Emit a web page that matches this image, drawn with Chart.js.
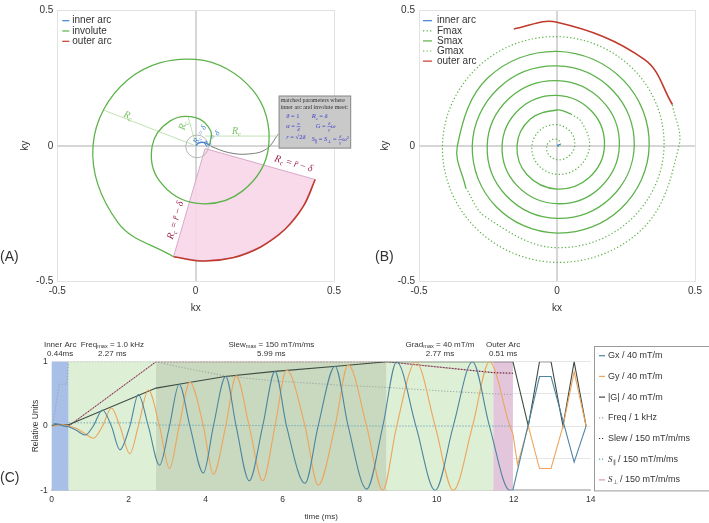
<!DOCTYPE html>
<html>
<head>
<meta charset="utf-8">
<script src="https://cdn.jsdelivr.net/npm/chart.js"></script>
<style>
  body { margin:0; background:#fff; }
  .panel { position:absolute; }
</style>
</head>
<body>
<div class="panel" style="left:0px; top:0px; width:360px; height:322px;"><canvas id="chartA"></canvas></div>
<div class="panel" style="left:360px; top:0px; width:349px; height:322px;"><canvas id="chartB"></canvas></div>
<div class="panel" style="left:0px; top:330px; width:709px; height:193px;"><canvas id="chartC"></canvas></div>
<script>
// ---------------- panel A : inner arc + involute + outer arc (kx, ky) ----------------
var aInnerArc = [[0, 0], [0.012, 0.011], [0.027, 0.013], [0.041, 0.008], [0.05, 0]];
// involute read as [angle (deg, ccw from +kx), radius]
var aInvolute = [[0, 0.050], [45, 0.077], [90, 0.104], [135, 0.130], [180, 0.157], [225, 0.184],
  [270, 0.211], [315, 0.237], [360, 0.264], [405, 0.291], [450, 0.318], [495, 0.345],
  [540, 0.371], [585, 0.398], [618.9, 0.416]];
var aOuterArc = [[-0.080, -0.408], [0.027, -0.424], [0.134, -0.412], [0.235, -0.372],
  [0.322, -0.308], [0.389, -0.223], [0.432, -0.124]];
var aWedgeCentre = [0.034, -0.010];
var aGuides = [[[-0.005, 0.002], [-0.334, 0.132]], [[0.001, 0.003], [-0.027, 0.105]], [[0.034, 0.036], [0.300, 0.036]]];
var aLeader = [[0.300, 0.045], [0.255, -0.012], [0.190, -0.030], [0.120, -0.025], [0.055, -0.002]];
var aMatchCircle = [0.005, -0.002, 0.041];   // centre x, centre y, radius
var aNoteBox = [0.300, 0.185, 0.562, -0.010]; // left, top, right, bottom (k units)

// ---------------- panel B : full spiral ----------------
var bInnerArc = [[0, 0], [0.006, 0.004], [0.012, 0.004]];
var bFmax = [[-405, 0.003], [-360, 0.010], [-315, 0.017], [-270, 0.024], [-225, 0.030], [-180, 0.037],
  [-135, 0.044], [-90, 0.051], [-45, 0.057], [0, 0.064], [45, 0.071], [90, 0.078], [135, 0.084],
  [180, 0.091], [225, 0.098], [270, 0.105], [315, 0.111], [360, 0.118], [405, 0.125], [427, 0.128]];
var bSmax = [[427, 0.128], [450, 0.132], [495, 0.138], [540, 0.145], [585, 0.152], [630, 0.159],
  [675, 0.165], [720, 0.172], [765, 0.179], [810, 0.186], [855, 0.192], [900, 0.199], [945, 0.206],
  [990, 0.213], [1035, 0.219], [1080, 0.226], [1125, 0.233], [1170, 0.240], [1215, 0.246],
  [1260, 0.253], [1305, 0.260], [1350, 0.267], [1395, 0.273], [1440, 0.280], [1485, 0.287],
  [1530, 0.294], [1575, 0.300], [1620, 0.307], [1665, 0.314], [1710, 0.321], [1755, 0.327],
  [1800, 0.334], [1845, 0.341], [1890, 0.348], [1935, 0.354], [1980, 0.361], [2005, 0.365]];
var bGmax = [[2005, 0.365], [2025, 0.368], [2070, 0.375], [2115, 0.381], [2160, 0.388], [2205, 0.395],
  [2250, 0.402], [2295, 0.408], [2340, 0.415], [2385, 0.422], [2430, 0.429], [2475, 0.435],
  [2520, 0.442], [2540, 0.445]];
var bOuterArc = [[2540, 0.445], [2565, 0.449], [2610, 0.455], [2630, 0.458]];

// ---------------- panel C : waveforms vs time (ms) ----------------
var cRegionEdges = [0, 0.44, 2.71, 8.70, 11.47, 11.98];
var cRegionTimes = ['0.44ms', '2.27 ms', '5.99 ms', '2.77 ms', '0.51 ms'];
var cTime = [0, 0.08, 0.18, 0.30, 0.44, 0.65, 0.87, 1.08, 1.32, 1.55, 1.77, 2.03, 2.25, 2.51, 2.80,
  3.06, 3.31, 3.59, 3.94, 4.20, 4.52, 4.79, 5.13, 5.48, 5.80, 6.10, 6.58, 6.92, 7.36, 7.70, 8.18,
  8.60, 8.96, 9.46, 9.96, 10.43, 10.93, 11.37, 11.90, 11.98];
var cGx = [0, 0.04, 0.03, 0, -0.01, -0.07, -0.14, 0, 0.25, 0, -0.37, 0, 0.49, 0, -0.61,
  0, 0.65, 0, -0.73, 0, 0.77, 0, -0.85, 0, 0.85, 0, -0.89, 0, 0.93, 0, -0.98,
  0, 1.0, 0, -1.0, 0, 1.0, 0, -1.0, -0.99];
var cGy = [0, 0, 0.02, 0.02, 0, -0.04, -0.12, -0.19, 0, 0.28, 0, -0.43, 0, 0.56, 0,
  -0.66, 0, 0.68, 0, -0.75, 0, 0.78, 0, -0.85, 0, 0.87, 0, -0.92, 0, 0.95, 0,
  -1.0, 0, 1.0, 0, -1.0, 0, 1.0, 0, -0.12];
var cRewGxTime = [11.98, 12.67, 12.97, 13.57, 13.88];
var cRewGx = [-0.99, 0.77, 0.77, -0.56, 0];
var cRewGyTime = [11.98, 12.10, 12.38, 12.67, 12.97, 13.28, 13.57, 13.88];
var cRewGy = [-0.12, -0.60, 0, -0.66, -0.66, 0, 0.84, 0];
var cGmagTime = [0, 0.10, 0.44, 2.71, 3.30, 4.50, 5.80, 7.40, 8.70, 11.98];
var cGmag = [0, 0.02, 0.02, 0.59, 0.65, 0.77, 0.85, 0.93, 1.0, 1.0];
var cRewGmagTime = [11.98, 12.38, 12.67, 12.97, 13.28, 13.57, 13.88];
var cRewGmag = [1, 0, 1, 1, 0, 1, 0];
var cFreqTime = [0, 0.04, 0.20, 0.39, 0.44, 2.71, 3.30, 4.50, 5.80, 7.40, 8.70, 10.0, 11.47, 11.98];
var cFreq = [0, 0.07, 0.65, 0.65, 1.0, 1.0, 0.92, 0.78, 0.70, 0.64, 0.60, 0.55, 0.50, 0.49];
var cSlewTime = [0.44, 2.71, 8.70, 10.0, 11.47, 11.98];
var cSlew = [0, 1.0, 1.0, 0.92, 0.83, 0.82];
var cSparTime = [0.44, 2.71, 2.71, 8.70, 11.98];
var cSpar = [0.05, 0.05, 0.015, 0, 0];
var cSperp = [0, 1.0, 1.0, 0.92, 0.83, 0.82];

// ---------------- helpers ----------------
var SANS = '"Liberation Sans", Arial, Helvetica, sans-serif';
var SERIF = '"Liberation Serif", "DejaVu Serif", serif';
var BLUE = '#3f7fd0', GREEN = '#5cb34a', RED = '#c0392b';
var DOT = [1.3, 2.2];
Chart.defaults.font.family = SANS;
Chart.defaults.font.size = 10;
Chart.defaults.color = '#333';
Chart.defaults.animation = false;
Chart.defaults.elements.point.radius = 0;
Chart.defaults.elements.point.hoverRadius = 0;
Chart.defaults.plugins.legend.display = false;
Chart.defaults.plugins.tooltip.enabled = false;

function xy(pts) { return pts.map(function(p) { return {x: p[0], y: p[1]}; }); }
function polar(pts) {
  return pts.map(function(p) { var a = p[0] * Math.PI / 180; return {x: p[1] * Math.cos(a), y: p[1] * Math.sin(a)}; });
}
function series(t, v) { return t.map(function(x, i) { return {x: x, y: v[i]}; }); }

function fontOf(st, sz, family) {
  var fam = st.indexOf('m') >= 0 ? SERIF : family;
  return (st.indexOf('i') >= 0 || st.indexOf('m') >= 0 ? 'italic ' : '') + sz + 'px ' + fam;
}
// parts: [text, style]; style letters: i italic, m math (serif italic), s subscript, p superscript, f fraction "num|den"
function richWidth(ctx, parts, size, family) {
  var w = 0;
  parts.forEach(function(p) {
    var t = p[0], st = p[1] || '';
    if (st.indexOf('f') >= 0) {
      var nd = t.split('|');
      ctx.font = fontOf('m', size * 0.75, family);
      w += Math.max(ctx.measureText(nd[0]).width, ctx.measureText(nd[1]).width) + 1.5;
    } else {
      var small = st.indexOf('s') >= 0 || st.indexOf('p') >= 0;
      ctx.font = fontOf(st, small ? size * 0.7 : size, family);
      w += ctx.measureText(t).width;
    }
  });
  return w;
}
function drawRich(ctx, parts, x, y, o) {
  var size = o.size || 10, family = o.family || SERIF;
  ctx.save();
  ctx.translate(x, y);
  ctx.rotate((o.rot || 0) * Math.PI / 180);
  ctx.fillStyle = o.color || '#333';
  ctx.strokeStyle = o.color || '#333';
  ctx.textBaseline = 'middle';
  ctx.textAlign = 'left';
  var cx = o.align === 'left' ? 0 : -richWidth(ctx, parts, size, family) / 2;
  parts.forEach(function(p) {
    var t = p[0], st = p[1] || '';
    if (st.indexOf('f') >= 0) {
      var nd = t.split('|'), fs = size * 0.75;
      ctx.font = fontOf('m', fs, family);
      var fw = Math.max(ctx.measureText(nd[0]).width, ctx.measureText(nd[1]).width);
      ctx.textAlign = 'center';
      ctx.fillText(nd[0], cx + fw / 2 + 0.75, -fs * 0.55);
      ctx.fillText(nd[1], cx + fw / 2 + 0.75, fs * 0.6);
      ctx.lineWidth = 0.5;
      ctx.beginPath(); ctx.moveTo(cx, 0); ctx.lineTo(cx + fw + 1.5, 0); ctx.stroke();
      ctx.textAlign = 'left';
      cx += fw + 1.5;
    } else {
      var small = st.indexOf('s') >= 0 || st.indexOf('p') >= 0;
      ctx.font = fontOf(st, small ? size * 0.7 : size, family);
      var dy = st.indexOf('s') >= 0 ? size * 0.3 : (st.indexOf('p') >= 0 ? -size * 0.35 : 0);
      ctx.fillText(t, cx, dy);
      cx += ctx.measureText(t).width;
    }
  });
  ctx.restore();
}

// legend inside the k-space plots + panel letter
var kDecor = {
  id: 'kDecor',
  afterDraw: function(chart, args, opts) {
    var ctx = chart.ctx, area = chart.chartArea;
    ctx.save();
    ctx.font = '10px ' + SANS;
    ctx.textBaseline = 'middle';
    var y = area.top + opts.top;
    chart.data.datasets.forEach(function(ds) {
      if (!ds.label) return;
      var x0 = area.left + opts.left;
      ctx.strokeStyle = ds.borderColor;
      ctx.lineWidth = 1.2;
      ctx.setLineDash(ds.borderDash || []);
      ctx.beginPath(); ctx.moveTo(x0, y); ctx.lineTo(x0 + opts.sample, y); ctx.stroke();
      ctx.setLineDash([]);
      ctx.fillStyle = '#333';
      ctx.fillText(ds.label, x0 + opts.sample + opts.gap, y);
      y += opts.spacing;
    });
    ctx.font = '14px ' + SANS;
    ctx.textAlign = 'left';
    ctx.fillText(opts.panel, opts.panelX, opts.panelY);
    ctx.restore();
  }
};

function kScales(yWidth) {
  return {
    x: {
      type: 'linear', min: -0.5, max: 0.5,
      ticks: {stepSize: 0.5, padding: 4, maxRotation: 0, font: {size: 10}},
      grid: {drawTicks: false,
        color: function(c) { return c.tick && c.tick.value === 0 ? '#d6d6d6' : '#e2e2e2'; },
        lineWidth: function(c) { return c.tick && c.tick.value === 0 ? 2 : 1; }},
      border: {display: false},
      title: {display: true, text: 'kx', font: {size: 10}, padding: {top: 0, bottom: 8}},
      afterFit: function(s) { s.height = 40.3; }
    },
    y: {
      type: 'linear', min: -0.5, max: 0.5,
      ticks: {stepSize: 0.5, padding: 4, font: {size: 10}},
      grid: {drawTicks: false,
        color: function(c) { return c.tick && c.tick.value === 0 ? '#d6d6d6' : '#e2e2e2'; },
        lineWidth: function(c) { return c.tick && c.tick.value === 0 ? 2 : 1; }},
      border: {display: false},
      title: {display: true, text: 'ky', font: {size: 10}, padding: {top: 19, bottom: 0}},
      afterFit: function(s) { s.width = yWidth; }
    }
  };
}

// ---------------- panel A annotations ----------------
var RC = [['R', 'm'], ['c', 'ms']];
var aLabels = [
  {at: [-0.244, 0.111], rot: 21.8, color: '#7cc465', size: 10, parts: RC},
  {at: [-0.045, 0.075], rot: -75, color: '#7cc465', size: 10, parts: RC},
  {at: [0.148, 0.053], rot: 0, color: '#7cc465', size: 10, parts: RC},
  {at: [0.016, 0.041], rot: -62, color: BLUE, size: 8, parts: RC.concat([[' = '], ['δ', 'm']])},
  {at: [0.058, 0.026], rot: -45, color: BLUE, size: 8, parts: RC.concat([[' = '], ['δ', 'm']])},
  {at: [0.354, -0.066], rot: 16, color: '#9b2450', size: 10, parts: RC.concat([[' = '], ['r̄', 'm'], [' − '], ['δ', 'm']])},
  {at: [-0.072, -0.274], rot: -74, color: '#9b2450', size: 10, parts: RC.concat([[' = '], ['r̄', 'm'], [' − '], ['δ', 'm']])}
];
var aNotes = {
  id: 'aNotes',
  afterDatasetsDraw: function(chart) {
    var ctx = chart.ctx, sx = chart.scales.x, sy = chart.scales.y;
    ctx.save();
    // match circle
    var cxp = sx.getPixelForValue(aMatchCircle[0]), cyp = sy.getPixelForValue(aMatchCircle[1]);
    var rp = sx.getPixelForValue(aMatchCircle[2]) - sx.getPixelForValue(0);
    ctx.strokeStyle = '#b5b5b5'; ctx.lineWidth = 1;
    ctx.beginPath(); ctx.arc(cxp, cyp, rp, 0, Math.PI * 2); ctx.stroke();
    // note box
    var l = sx.getPixelForValue(aNoteBox[0]), t = sy.getPixelForValue(aNoteBox[1]);
    var r = sx.getPixelForValue(aNoteBox[2]), b = sy.getPixelForValue(aNoteBox[3]);
    ctx.fillStyle = '#c9c9c9'; ctx.strokeStyle = '#8c8c8c';
    ctx.fillRect(l, t, r - l, b - t); ctx.strokeRect(l + 0.5, t + 0.5, r - l - 1, b - t - 1);
    drawRich(ctx, [['matched parameters where']], l + 2, t + 4.8, {size: 6, color: '#333', align: 'left'});
    drawRich(ctx, [['inner arc and involute meet:']], l + 2, t + 11.4, {size: 6, color: '#333', align: 'left'});
    var mc = '#3b3bd1';
    drawRich(ctx, [['θ', 'm'], [' = 1']], l + 7.5, t + 21, {size: 6.5, color: mc, align: 'left'});
    drawRich(ctx, [['α', 'm'], [' = '], ['π|4', 'f']], l + 7.5, t + 31, {size: 6.5, color: mc, align: 'left'});
    drawRich(ctx, [['r', 'm'], [' = √2'], ['δ', 'm']], l + 7.5, t + 42, {size: 6.5, color: mc, align: 'left'});
    drawRich(ctx, [['R', 'm'], ['c', 'ms'], [' = '], ['δ', 'm']], l + 33, t + 21, {size: 6.5, color: mc, align: 'left'});
    drawRich(ctx, [['G', 'm'], [' = '], ['δ|γ', 'f'], ['ω', 'm']], l + 37, t + 31, {size: 6.5, color: mc, align: 'left'});
    drawRich(ctx, [['S', 'm'], ['∥', 's'], [' = '], ['S', 'm'], ['⊥', 's'], [' = '], ['δ|γ', 'f'], ['ω', 'm'], ['2', 'p']], l + 33, t + 44, {size: 6.5, color: mc, align: 'left'});
    aLabels.forEach(function(a) {
      drawRich(ctx, a.parts, sx.getPixelForValue(a.at[0]), sy.getPixelForValue(a.at[1]), {size: a.size, color: a.color, rot: a.rot});
    });
    ctx.restore();
  }
};

var chartA = new Chart(document.getElementById('chartA'), {
  type: 'scatter',
  data: {
    datasets: [
      {label: 'inner arc', data: xy(aInnerArc), showLine: true, borderColor: BLUE, borderWidth: 1.3, tension: 0.4},
      {label: 'involute', data: polar(aInvolute), showLine: true, borderColor: GREEN, borderWidth: 1.3, tension: 0.375},
      {label: 'outer arc', data: xy(aOuterArc), showLine: true, borderColor: RED, borderWidth: 1.6, tension: 0.4},
      {data: xy([aWedgeCentre].concat(aOuterArc, [aWedgeCentre])), showLine: true, borderColor: '#d8a8c8',
        borderWidth: 1, backgroundColor: 'rgba(247,214,232,0.9)', fill: 'shape', tension: 0},
      {data: xy(aGuides[0]), showLine: true, borderColor: '#c2e2b3', borderWidth: 1},
      {data: xy(aGuides[1]), showLine: true, borderColor: '#c2e2b3', borderWidth: 1},
      {data: xy(aGuides[2]), showLine: true, borderColor: '#c2e2b3', borderWidth: 1},
      {data: xy(aLeader), showLine: true, borderColor: '#7a7a7a', borderWidth: 1, tension: 0.4}
    ]
  },
  options: {
    responsive: true, maintainAspectRatio: false, devicePixelRatio: 1,
    layout: {autoPadding: false, padding: {left: 0, top: 5, right: 26, bottom: 0}},
    scales: kScales(57.3),
    plugins: {kDecor: {top: 10.7, left: 5, sample: 7, gap: 3, spacing: 10.3, panel: '(A)', panelX: 0, panelY: 257}}
  },
  plugins: [aNotes, kDecor]
});

var chartB = new Chart(document.getElementById('chartB'), {
  type: 'scatter',
  data: {
    datasets: [
      {label: 'inner arc', data: xy(bInnerArc), showLine: true, borderColor: BLUE, borderWidth: 1.3, tension: 0.4},
      {label: 'Fmax', data: polar(bFmax), showLine: true, borderColor: GREEN, borderWidth: 1.2, borderDash: DOT, tension: 0.375},
      {label: 'Smax', data: polar(bSmax), showLine: true, borderColor: GREEN, borderWidth: 1.3, tension: 0.375},
      {label: 'Gmax', data: polar(bGmax), showLine: true, borderColor: GREEN, borderWidth: 1.2, borderDash: DOT, tension: 0.375},
      {label: 'outer arc', data: polar(bOuterArc), showLine: true, borderColor: RED, borderWidth: 1.6, tension: 0.375}
    ]
  },
  options: {
    responsive: true, maintainAspectRatio: false, devicePixelRatio: 1,
    layout: {autoPadding: false, padding: {left: 0, top: 5, right: 14, bottom: 0}},
    scales: kScales(59),
    plugins: {kDecor: {top: 10.7, left: 4, sample: 9, gap: 5, spacing: 10.1, panel: '(B)', panelX: 15, panelY: 257}}
  },
  plugins: [kDecor]
});

// ---------------- panel C ----------------
var cRegionColors = ['#a8c0e7', '#ddefd5', '#c8d9bf', '#ddefd5', '#e3c6dc'];
var cRegionTitles = [
  [['Inner Arc']],
  [['Freq'], ['max', 's'], [' = 1.0 kHz']],
  [['Slew'], ['max', 's'], [' = 150 mT/m/ms']],
  [['Grad'], ['max', 's'], [' = 40 mT/m']],
  [['Outer Arc']]
];
var cDecor = {
  id: 'cDecor',
  beforeDatasetsDraw: function(chart) {
    var ctx = chart.ctx, area = chart.chartArea, sx = chart.scales.x;
    ctx.save();
    for (var i = 0; i < cRegionEdges.length - 1; i++) {
      var x0 = sx.getPixelForValue(cRegionEdges[i]), x1 = sx.getPixelForValue(cRegionEdges[i + 1]);
      ctx.fillStyle = cRegionColors[i];
      ctx.fillRect(x0, area.top, x1 - x0, area.bottom - area.top);
    }
    ctx.restore();
  },
  afterDraw: function(chart) {
    var ctx = chart.ctx, area = chart.chartArea, sx = chart.scales.x;
    ctx.save();
    for (var i = 0; i < cRegionTitles.length; i++) {
      var xm = sx.getPixelForValue((cRegionEdges[i] + cRegionEdges[i + 1]) / 2);
      drawRich(ctx, cRegionTitles[i], xm, area.top - 17.4, {size: 8, family: SANS, color: '#333'});
      drawRich(ctx, [[cRegionTimes[i]]], xm, area.top - 8.2, {size: 8, family: SANS, color: '#333'});
    }
    // legend box
    var bx = area.right + 3.3, by = area.top - 15.7;
    ctx.strokeStyle = '#9a9a9a'; ctx.lineWidth = 1;
    ctx.strokeRect(bx + 0.5, by + 0.5, 140, area.bottom - by);
    var y = area.top - 6;
    chart.data.datasets.forEach(function(ds) {
      if (!ds.label) return;
      ctx.strokeStyle = ds.borderColor; ctx.lineWidth = 1.2;
      ctx.setLineDash(ds.borderDash || []);
      ctx.beginPath(); ctx.moveTo(bx + 5, y); ctx.lineTo(bx + 11, y); ctx.stroke();
      ctx.setLineDash([]);
      drawRich(ctx, ds.legendParts || [[ds.label]], bx + 14, y, {size: 9, family: SANS, color: '#333', align: 'left'});
      y += 20.7;
    });
    ctx.font = '14px ' + SANS; ctx.fillStyle = '#333'; ctx.textBaseline = 'middle';
    ctx.fillText('(C)', 0, 148);
    ctx.restore();
  }
};

var chartC = new Chart(document.getElementById('chartC'), {
  type: 'line',
  data: {
    datasets: [
      {label: 'Gx / 40 mT/m', data: series(cTime, cGx), borderColor: '#4d84a0', borderWidth: 1.1, cubicInterpolationMode: 'monotone'},
      {label: 'Gy / 40 mT/m', data: series(cTime, cGy), borderColor: '#eea45c', borderWidth: 1.1, cubicInterpolationMode: 'monotone'},
      {label: '|G| / 40 mT/m', data: series(cGmagTime, cGmag), borderColor: '#3c4a40', borderWidth: 1.1},
      {label: 'Freq / 1 kHz', data: series(cFreqTime, cFreq), borderColor: '#9aa3a0', borderWidth: 1, borderDash: [1.2, 1.8]},
      {label: 'Slew / 150 mT/m/ms', data: series(cSlewTime, cSlew), borderColor: '#333', borderWidth: 1, borderDash: [1.2, 1.8]},
      {label: 'S∥ / 150 mT/m/ms', legendParts: [['S', 'm'], ['∥', 's'], [' / 150 mT/m/ms']],
        data: series(cSparTime, cSpar), borderColor: '#5f9fb5', borderWidth: 1, borderDash: [1.2, 1.8]},
      {label: 'S⊥ / 150 mT/m/ms', legendParts: [['S', 'm'], ['⊥', 's'], [' / 150 mT/m/ms']],
        data: series(cSlewTime, cSperp), borderColor: '#d99aac', borderWidth: 1.1},
      {data: series(cRewGxTime, cRewGx), borderColor: '#4d84a0', borderWidth: 1.1},
      {data: series(cRewGyTime, cRewGy), borderColor: '#eea45c', borderWidth: 1.1},
      {data: series(cRewGmagTime, cRewGmag), borderColor: '#3c4a40', borderWidth: 1.1}
    ]
  },
  options: {
    responsive: true, maintainAspectRatio: false, devicePixelRatio: 1,
    layout: {autoPadding: false, padding: {left: 0, top: 31.7, right: 118.3, bottom: 0}},
    scales: {
      x: {
        type: 'linear', min: 0, max: 14,
        ticks: {stepSize: 2, padding: 4.5, maxRotation: 0, font: {size: 8.5}},
        grid: {display: false, drawTicks: false},
        border: {display: true, color: '#c8c8c8', width: 2},
        title: {display: true, text: 'time (ms)', font: {size: 8}, padding: {top: 0, bottom: 1.5}},
        afterFit: function(s) { s.height = 32.6; }
      },
      y: {
        type: 'linear', min: -1, max: 1,
        ticks: {stepSize: 0.5, padding: 4, font: {size: 8.5},
          callback: function(v) { return (v === 1 || v === 0 || v === -1) ? String(v) : ''; }},
        grid: {drawTicks: false, color: '#e6e6e6'},
        border: {display: false},
        title: {display: true, text: 'Relative Units', font: {size: 8.5}, padding: {top: 31, bottom: 0}},
        afterFit: function(s) { s.width = 51.7; }
      }
    }
  },
  plugins: [cDecor]
});
</script>
</body>
</html>
